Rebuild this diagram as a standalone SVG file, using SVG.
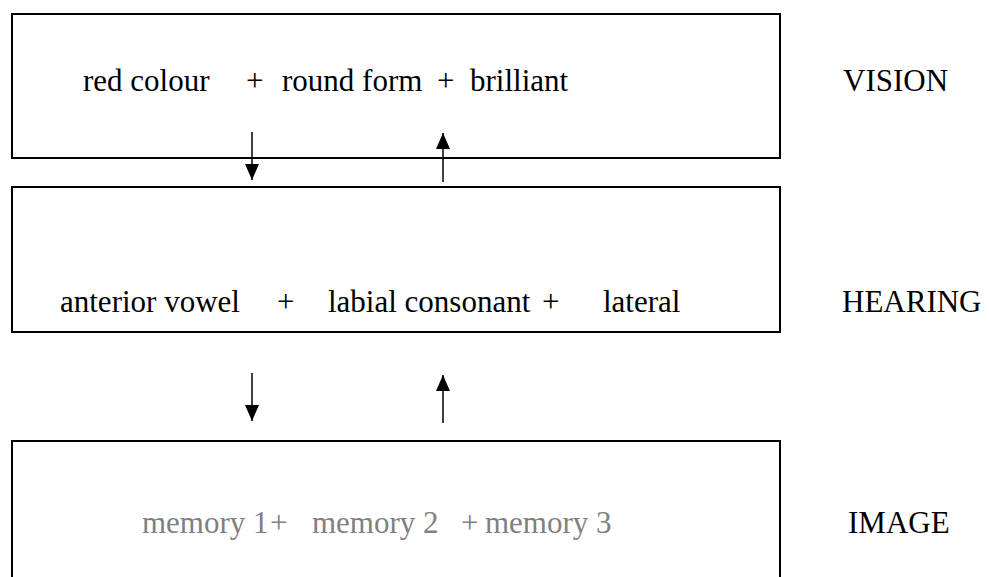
<svg xmlns="http://www.w3.org/2000/svg" width="989" height="577" viewBox="0 0 989 577">
<style>
  .box { fill: #ffffff; stroke: #000000; stroke-width: 2; }
  .t { font-family: "Liberation Serif", "Times New Roman", serif; font-size: 31px; fill: #000000; }
  .g { fill: #808080; }
  .conn { stroke: #000000; stroke-width: 1.5; fill: none; }
</style>
<defs>
  <marker id="ah" viewBox="0 0 16 14" refX="16" refY="7" markerWidth="16" markerHeight="14" markerUnits="userSpaceOnUse" orient="auto">
    <path d="M0,0 L16,7 L0,14 z" fill="#000000"/>
  </marker>
</defs>
<rect width="989" height="577" fill="#ffffff"/>

<g id="vision">
  <rect class="box" x="12" y="14" width="768" height="144"/>
  <text class="t" y="91"><tspan x="83">red colour</tspan><tspan x="246">+</tspan><tspan x="282">round form</tspan><tspan x="437">+</tspan><tspan x="470">brilliant</tspan></text>
</g>
<g id="vision-label">
  <text class="t" x="843" y="91">VISION</text>
</g>

<g id="hearing">
  <rect class="box" x="12" y="187" width="768" height="145"/>
  <text class="t" y="312"><tspan x="60">anterior vowel</tspan><tspan x="277">+</tspan><tspan x="328">labial consonant</tspan><tspan x="542">+</tspan><tspan x="603">lateral</tspan></text>
</g>
<g id="hearing-label">
  <text class="t" x="842" y="312">HEARING</text>
</g>

<g id="image">
  <rect class="box" x="12" y="441" width="768" height="160"/>
  <text class="t g" y="533"><tspan x="142">memory 1</tspan><tspan x="270">+</tspan><tspan x="312">memory 2</tspan><tspan x="461">+</tspan><tspan x="485">memory 3</tspan></text>
</g>
<g id="image-label">
  <text class="t" x="848" y="533">IMAGE</text>
</g>

<g id="connectors">
  <line class="conn" x1="252" y1="132" x2="252" y2="180" marker-end="url(#ah)"/>
  <line class="conn" x1="443" y1="182" x2="443" y2="133" marker-end="url(#ah)"/>
  <line class="conn" x1="252" y1="373" x2="252" y2="421" marker-end="url(#ah)"/>
  <line class="conn" x1="443" y1="423" x2="443" y2="375" marker-end="url(#ah)"/>
</g>
</svg>
